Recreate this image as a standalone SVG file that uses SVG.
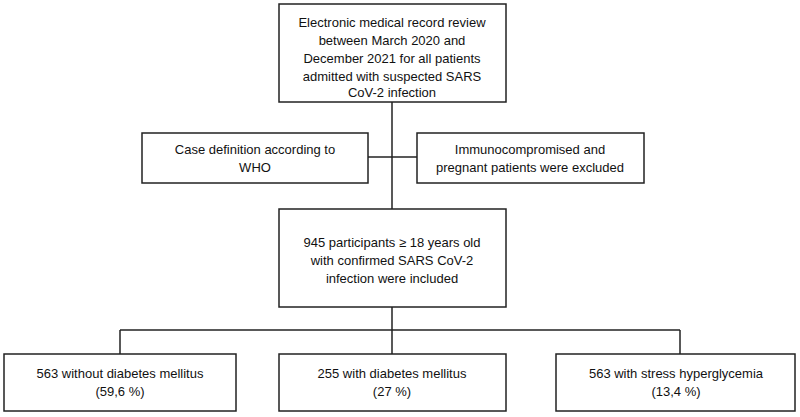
<svg xmlns="http://www.w3.org/2000/svg" width="800" height="417" viewBox="0 0 800 417">
<style>
rect{fill:#fff;stroke:#222;stroke-width:1.5}
text{font-family:"Liberation Sans",Arial,sans-serif;font-size:13px;fill:#111;text-anchor:middle}
.c line{stroke:#222;stroke-width:1.5}
</style>
<rect x="0" y="0" width="800" height="417" style="stroke:none"/>
<g class="c">
<line x1="392" y1="102" x2="392" y2="209"/>
<line x1="368" y1="157" x2="417" y2="157"/>
<line x1="392" y1="307" x2="392" y2="354"/>
<line x1="120" y1="330" x2="680" y2="330"/>
<line x1="120" y1="330" x2="120" y2="354"/>
<line x1="680" y1="330" x2="680" y2="354"/>
</g>
<g id="n1"><rect x="279" y="4" width="227" height="98"/>
<text x="392" y="27">Electronic medical record review</text>
<text x="392" y="45">between March 2020 and</text>
<text x="392" y="63">December 2021 for all patients</text>
<text x="392" y="81">admitted with suspected SARS</text>
<text x="392" y="97">CoV-2 infection</text></g>
<g id="n2"><rect x="142" y="133" width="226" height="50"/>
<text x="255" y="154">Case definition according to</text>
<text x="255" y="172">WHO</text></g>
<g id="n3"><rect x="417" y="133" width="227" height="50"/>
<text x="530" y="154">Immunocompromised and</text>
<text x="530" y="172">pregnant patients were excluded</text></g>
<g id="n4"><rect x="279" y="209" width="227" height="98"/>
<text x="392" y="247">945 participants ≥ 18 years old</text>
<text x="392" y="265">with confirmed SARS CoV-2</text>
<text x="392" y="283">infection were included</text></g>
<g id="n5"><rect x="4" y="354" width="232" height="57"/>
<text x="120" y="378">563 without diabetes mellitus</text>
<text x="120" y="396">(59,6 %)</text></g>
<g id="n6"><rect x="279" y="354" width="227" height="57"/>
<text x="392" y="378">255 with diabetes mellitus</text>
<text x="392" y="396">(27 %)</text></g>
<g id="n7"><rect x="556" y="354" width="239" height="57"/>
<text x="676" y="378">563 with stress hyperglycemia</text>
<text x="676" y="396">(13,4 %)</text></g>
</svg>
